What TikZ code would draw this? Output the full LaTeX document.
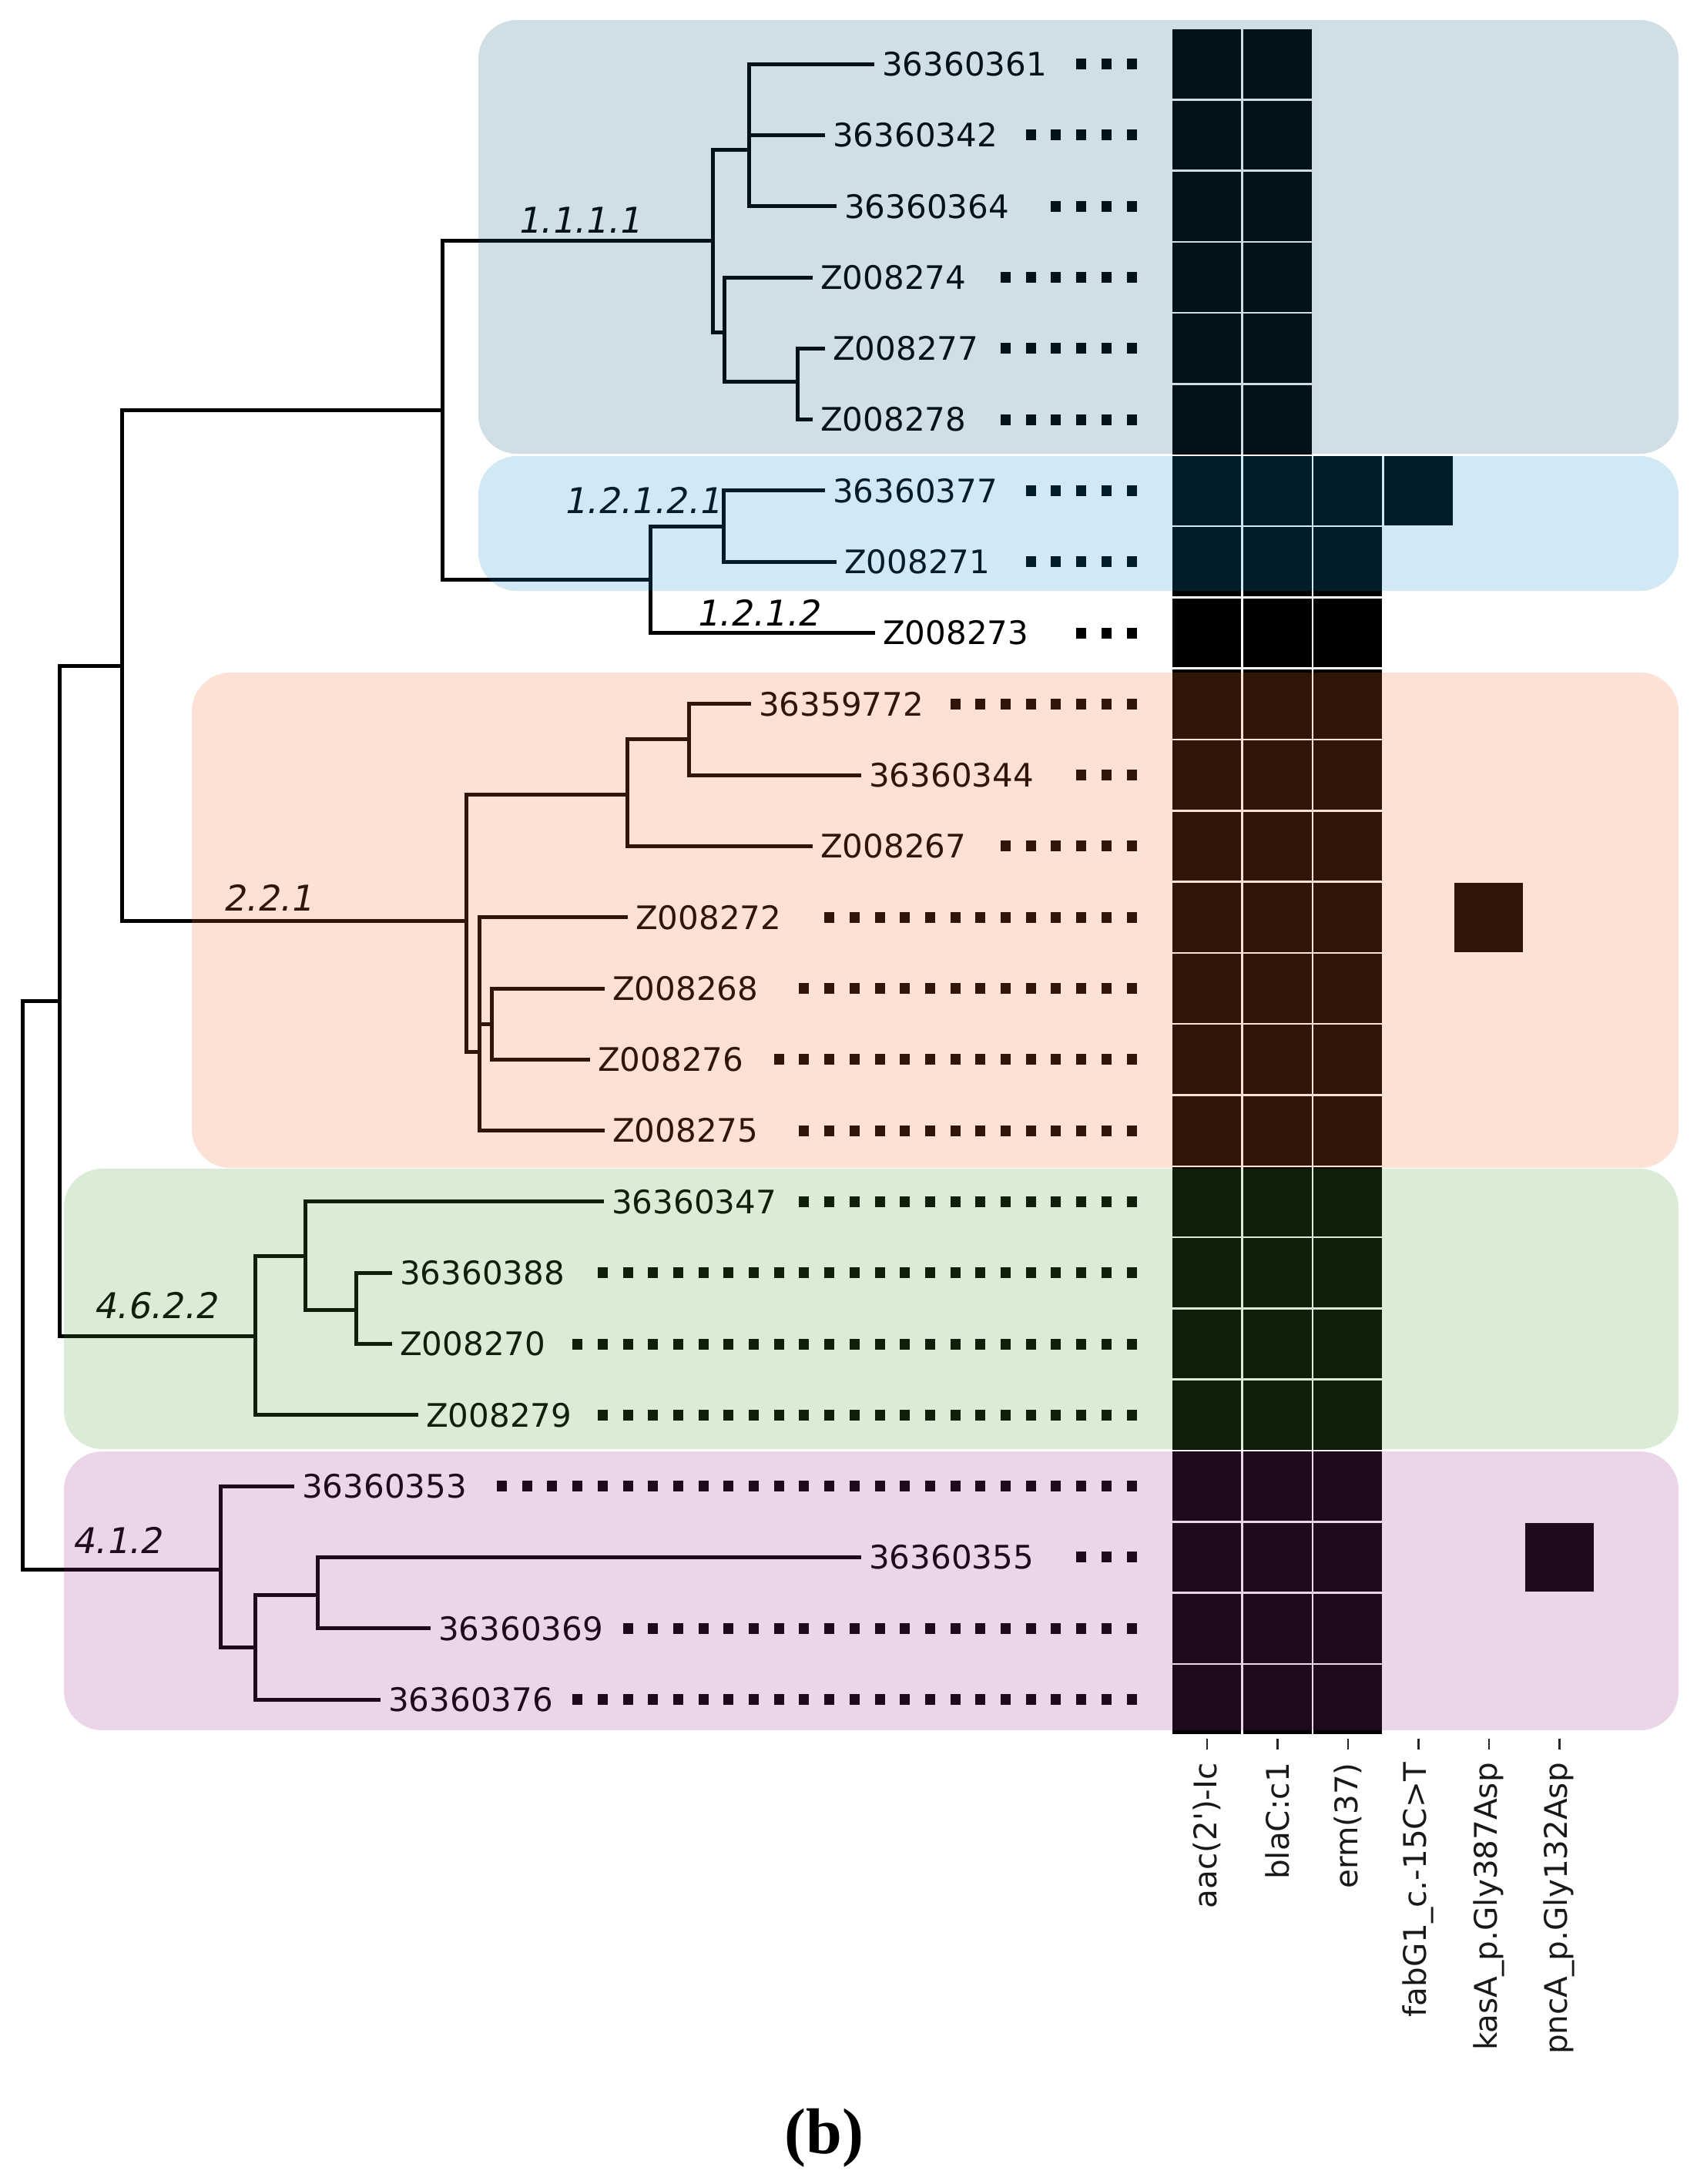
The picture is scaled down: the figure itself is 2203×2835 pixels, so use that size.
\documentclass[tikz,border=0pt]{standalone}
\usepackage{fontspec}
\newfontfamily\tipfont{DejaVu Sans}[Ligatures=TeXOff]
\newfontfamily\cladefont{DejaVu Sans}[FakeSlant=0.2]
\newfontfamily\captfont{Liberation Serif}
\definecolor{cBG}{RGB}{18,92,130}
\definecolor{cLB}{RGB}{18,145,201}
\definecolor{cOR}{RGB}{242,105,48}
\definecolor{cGR}{RGB}{71,161,51}
\definecolor{cPU}{RGB}{156,46,145}
\tikzset{
  br/.style={line width=5pt, line cap=rect, line join=miter, draw=black},
  tip/.style={anchor=west, inner sep=0pt, text=black, font=\tipfont\fontsize{42}{50}\selectfont},
  clade/.style={anchor=base west, inner sep=0pt, text=black, font=\cladefont\fontsize{46}{55}\selectfont},
  coll/.style={rotate=90, anchor=east, inner sep=0pt, text=black!90, font=\tipfont\fontsize{40.5}{48}\selectfont},
  cell/.style={fill=black, draw=white, line width=2.5pt},
  dotsq/.style={fill=black},
  ov/.style={fill opacity=0.2, rounded corners=50pt},
}
\begin{document}
\begin{tikzpicture}[x=1pt,y=-1pt]
\useasboundingbox (0,0) rectangle (2203,2835);

% heatmap
\foreach \r in {0,...,23}{\foreach \c in {0,1}{\path[cell] (1521+91.5*\c,37+92.3*\r) rectangle ++(91.5,92.3);}}
\foreach \r in {6,...,23}{\path[cell] (1521+91.5*2,37+92.3*\r) rectangle ++(91.5,92.3);}
\path[cell] (1521+91.5*3,37+92.3*6) rectangle ++(91.5,92.3);
\path[cell] (1521+91.5*4,37+92.3*12) rectangle ++(91.5,92.3);
\path[cell] (1521+91.5*5,37+92.3*21) rectangle ++(91.5,92.3);

% column ticks and labels
\foreach \c/\t in {0/aac(2')-Ic,1/blaC:c1,2/erm(37),3/fabG1\_c.-15C>T,4/kasA\_p.Gly387Asp,5/pncA\_p.Gly132Asp}{
  \draw[line width=2.5pt, black!85] (1566.75+91.5*\c,2257) -- (1566.75+91.5*\c,2271);
  \node[coll] (col\c) at (1566.75+91.5*\c,2288) {\t};
}

% leaves
\foreach \r/\x/\t in {0/1132/36360361,1/1068/36360342,2/1083/36360364,3/1052/Z008274,4/1068/Z008277,5/1052/Z008278,6/1068/36360377,7/1083/Z008271,8/1133/Z008273,9/972/36359772,10/1115/36360344,11/1052/Z008267,12/812/Z008272,13/782/Z008268,14/763/Z008276,15/782/Z008275,16/781/36360347,17/506/36360388,18/506/Z008270,19/540/Z008279,20/379/36360353,21/1115/36360355,22/556/36360369,23/491/36360376}{
  \pgfmathsetmacro\yy{83.15+92.3*\r}
  \coordinate (e\r) at (\x,\yy);
  \node[tip] (l\r) at (\x+13,\yy) {\t};
}

% dotted leaders
\foreach \r/\n in {0/3,1/5,2/4,3/6,4/6,5/6,6/5,7/5,8/3,9/8,10/3,11/6,12/13,13/14,14/15,15/14,16/14,17/22,18/23,19/22,20/26,21/3,22/21,23/23}{
  \pgfmathsetmacro\yy{83.15+92.3*\r}
  \foreach \k in {1,...,\n}{\fill[dotsq] (1462.5-32.7*\k+32.7,\yy-7) rectangle ++(13,14);}
}

% internal nodes
\coordinate (A) at (29.5,1668);
\coordinate (B) at (77,1299);
\coordinate (C) at (158,864);
\coordinate (D) at (574,532);
\coordinate (E) at (925,312);
\coordinate (F) at (972,194);
\coordinate (G) at (940,431);
\coordinate (H) at (1035,495);
\coordinate (I) at (844,752);
\coordinate (J) at (939,683);
\coordinate (K) at (605,1195);
\coordinate (L) at (814,1031);
\coordinate (M) at (894,959);
\coordinate (N) at (622,1365);
\coordinate (O) at (638,1329);
\coordinate (P) at (331,1734);
\coordinate (Q) at (396,1630);
\coordinate (R) at (462,1700);
\coordinate (S) at (286,2037);
\coordinate (T) at (331,2138);
\coordinate (U) at (412,2070);

\draw[br] (A)|-(B) (A)|-(S) (B)|-(C) (B)|-(P) (C)|-(D) (C)|-(K)
  (D)|-(E) (D)|-(I) (E)|-(F) (E)|-(G) (F)|-(e0) (F)|-(e1) (F)|-(e2)
  (G)|-(e3) (G)|-(H) (H)|-(e4) (H)|-(e5) (I)|-(J) (I)|-(e8) (J)|-(e6) (J)|-(e7)
  (K)|-(L) (K)|-(N) (L)|-(M) (L)|-(e11) (M)|-(e9) (M)|-(e10)
  (N)|-(e12) (N)|-(O) (N)|-(e15) (O)|-(e13) (O)|-(e14)
  (P)|-(Q) (P)|-(e19) (Q)|-(e16) (Q)|-(R) (R)|-(e17) (R)|-(e18)
  (S)|-(e20) (S)|-(T) (T)|-(U) (T)|-(e23) (U)|-(e21) (U)|-(e22);

% clade labels
\node[clade] (k1) at (671,302) {1.1.1.1};
\node[clade] (k2) at (731,666) {1.2.1.2.1};
\node[clade] (k3) at (903,812) {1.2.1.2};
\node[clade] (k4) at (289,1182) {2.2.1};
\node[clade] (k5) at (121,1711) {4.6.2.2};
\node[clade] (k6) at (93,2016) {4.1.2};

% translucent clade boxes
\fill[ov, fill=cBG] (621,26) rectangle (2179,589);
\fill[ov, fill=cLB] (621,592) rectangle (2179,767);
\fill[ov, fill=cOR] (249,873) rectangle (2179,1516);
\fill[ov, fill=cGR] (83,1517) rectangle (2179,1881);
\fill[ov, fill=cPU] (83,1884) rectangle (2179,2246);

% caption
\node[anchor=base, inner sep=0pt, font=\captfont\bfseries\fontsize{84}{90}\selectfont] (cap) at (1070,2795) {(b)};
\end{tikzpicture}
\end{document}
